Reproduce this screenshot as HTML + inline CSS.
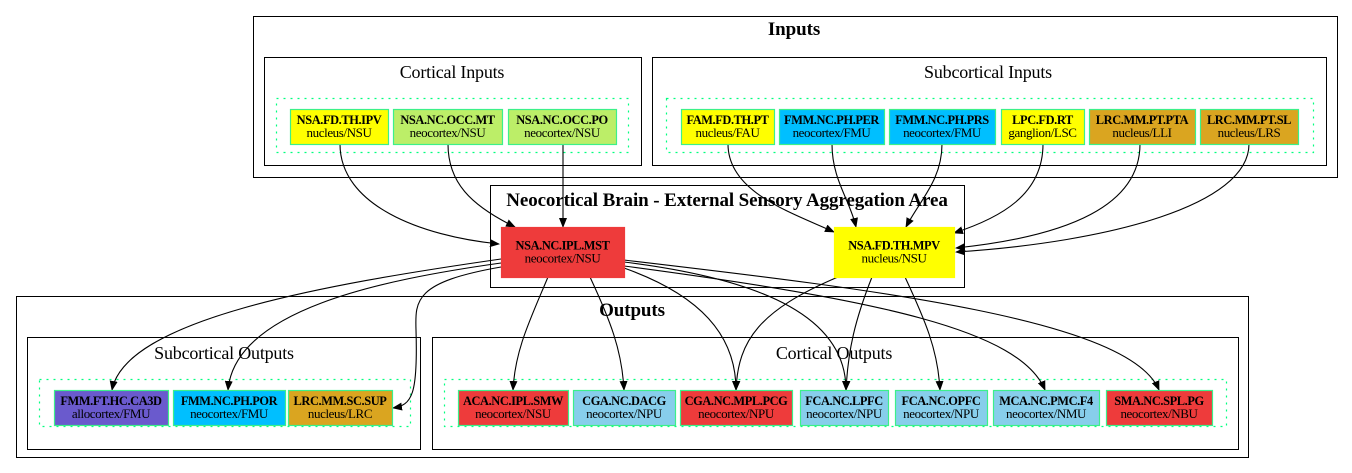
<!DOCTYPE html>
<html><head><meta charset="utf-8"><style>
html,body{margin:0;padding:0;background:#fff;width:1352px;height:473px;overflow:hidden}
svg{display:block;font-family:"Liberation Serif",serif}
.b{font-weight:bold;font-size:12.4px;letter-spacing:-0.4px}
.n{font-size:13px;letter-spacing:-0.4px}
.ct{font-size:18px;letter-spacing:-0.2px}
.ctb{font-size:19px;font-weight:bold;letter-spacing:-0.1px}
.e{fill:none;stroke:#000;stroke-width:1.1}
</style></head><body>
<svg width="1352" height="473" viewBox="0 0 1352 473">
<defs><marker id="ah" markerWidth="10" markerHeight="8" refX="9" refY="4" orient="auto" markerUnits="userSpaceOnUse"><path d="M0,0 L10,4 L0,8 z" fill="#000"/></marker></defs>
<g fill="none" stroke="#000">
<rect x="253.5" y="16.5" width="1084" height="161"/>
<rect x="264.5" y="57.5" width="377" height="108"/>
<rect x="652.5" y="57.5" width="674" height="108"/>
<rect x="490.5" y="185.5" width="474" height="102"/>
<rect x="16.5" y="296.5" width="1232" height="161"/>
<rect x="27.5" y="337.5" width="393" height="112"/>
<rect x="432.5" y="337.5" width="806" height="112"/>
</g>
<g fill="none" stroke="#00ff7f" stroke-dasharray="2,5" stroke-width="1.2">
<rect x="276.5" y="98.5" width="352" height="54"/>
<rect x="666.5" y="98.5" width="647" height="54"/>
<rect x="39.5" y="379.5" width="371" height="47"/>
<rect x="444.5" y="379.5" width="782" height="47"/>
</g>
<g text-anchor="middle">
<text x="794" y="35" class="ctb">Inputs</text>
<text x="452" y="78" class="ct">Cortical Inputs</text>
<text x="988" y="78" class="ct">Subcortical Inputs</text>
<text x="727" y="206" class="ctb">Neocortical Brain - External Sensory Aggregation Area</text>
<text x="632" y="316" class="ctb">Outputs</text>
<text x="224" y="359" class="ct">Subcortical Outputs</text>
<text x="834" y="359" class="ct">Cortical Outputs</text>
</g>
<g id="edges">
<path class="e" marker-end="url(#ah)" d="M340,144 C340,205 420,236 499,244"/>
<path class="e" marker-end="url(#ah)" d="M448,144 C448,182 470,205 515,227"/>
<path class="e" marker-end="url(#ah)" d="M563,144 L563,227"/>
<path class="e" marker-end="url(#ah)" d="M728,144 C728,192 790,212 834,232"/>
<path class="e" marker-end="url(#ah)" d="M832,144 C832,180 850,200 856,227"/>
<path class="e" marker-end="url(#ah)" d="M942,144 C942,180 920,200 906,227"/>
<path class="e" marker-end="url(#ah)" d="M1043,144 C1043,195 1000,218 954,233"/>
<path class="e" marker-end="url(#ah)" d="M1140,144 C1140,205 1070,236 956,248"/>
<path class="e" marker-end="url(#ah)" d="M1249,144 C1249,205 1110,242 956,252"/>
<path class="e" marker-end="url(#ah)" d="M501,259 C320,285 125,320 112,390"/>
<path class="e" marker-end="url(#ah)" d="M501,263 C380,280 235,310 228,390"/>
<path class="e" marker-end="url(#ah)" d="M501,267 C415,282 415,300 416,330 C418,395 412,405 393,408"/>
<path class="e" marker-end="url(#ah)" d="M548,277 C530,320 515,350 513,390"/>
<path class="e" marker-end="url(#ah)" d="M590,277 C610,320 622,350 624,390"/>
<path class="e" marker-end="url(#ah)" d="M624,268 C700,295 736,335 736,390"/>
<path class="e" marker-end="url(#ah)" d="M624,262 C770,280 846,320 846,390"/>
<path class="e" marker-end="url(#ah)" d="M624,266 C880,300 1020,330 1045,390"/>
<path class="e" marker-end="url(#ah)" d="M624,260 C880,290 1130,320 1159,390"/>
<path class="e" marker-end="url(#ah)" d="M838,277 C760,310 738,340 736,390"/>
<path class="e" marker-end="url(#ah)" d="M872,277 C855,320 848,350 846,390"/>
<path class="e" marker-end="url(#ah)" d="M905,277 C925,320 938,350 940,390"/>
</g>
<g id="nodes" stroke-width="1.2" text-anchor="middle"></g>
</svg>
<script>
const nodeNames=["NSA.FD.TH.IPV","NSA.NC.OCC.MT","NSA.NC.OCC.PO","FAM.FD.TH.PT","FMM.NC.PH.PER","FMM.NC.PH.PRS","LPC.FD.RT","LRC.MM.PT.PTA","LRC.MM.PT.SL","NSA.NC.IPL.MST","NSA.FD.TH.MPV","FMM.FT.HC.CA3D","FMM.NC.PH.POR","LRC.MM.SC.SUP","ACA.NC.IPL.SMW","CGA.NC.DACG","CGA.NC.MPL.PCG","FCA.NC.LPFC","FCA.NC.OPFC","MCA.NC.PMC.F4","SMA.NC.SPL.PG"];
const nodeSubs=["nucleus/NSU","neocortex/NSU","neocortex/NSU","nucleus/FAU","neocortex/FMU","neocortex/FMU","ganglion/LSC","nucleus/LLI","nucleus/LRS","neocortex/NSU","nucleus/NSU","allocortex/FMU","neocortex/FMU","nucleus/LRC","neocortex/NSU","neocortex/NPU","neocortex/NPU","neocortex/NPU","neocortex/NPU","neocortex/NMU","neocortex/NBU"];
const nodeFills=["#ffff00","#bcee68","#bcee68","#ffff00","#00bfff","#00bfff","#ffff00","#daa520","#daa520","#ee3b3b","#ffff00","#6a5acd","#00bfff","#daa520","#ee3b3b","#87ceeb","#ee3b3b","#87ceeb","#87ceeb","#87ceeb","#ee3b3b"];
const boxes=[[290,109,98,35],[393,109,109,35],[508,109,108,35],[681,109,93,35],[779,109,105,35],[889,109,106,35],[1001,109,83,35],[1089,109,106,35],[1200,109,98,35],[501,227,123,50],[834,227,120,50],[54,390,114,35],[173,390,112,35],[288,390,104,35],[458,390,110,35],[573,390,102,35],[680,390,112,35],[800,390,88,35],[895,390,92,35],[993,390,106,35],[1106,390,106,35]];
const g=document.getElementById('nodes');const NS="http://www.w3.org/2000/svg";
nodeNames.forEach((nm,i)=>{const [x,y,w,h]=boxes[i];const big=h>40;
const grp=document.createElementNS(NS,'g');


const r=document.createElementNS(NS,'rect');
r.setAttribute('x',x+0.5);r.setAttribute('y',y+0.5);r.setAttribute('width',w);r.setAttribute('height',h);
r.setAttribute('fill',nodeFills[i]);r.setAttribute('stroke',big?nodeFills[i]:'#3cf08a');
grp.appendChild(r);
const cx=x+w/2,cy=y+h/2;
const t1=document.createElementNS(NS,'text');t1.setAttribute('x',cx);t1.setAttribute('y',cy-2.5);t1.setAttribute('class','b');t1.textContent=nm;
const t2=document.createElementNS(NS,'text');t2.setAttribute('x',cx);t2.setAttribute('y',cy+10.5);t2.setAttribute('class','n');t2.textContent=nodeSubs[i];
grp.appendChild(t1);grp.appendChild(t2);g.appendChild(grp);});
</script>
</body></html>
